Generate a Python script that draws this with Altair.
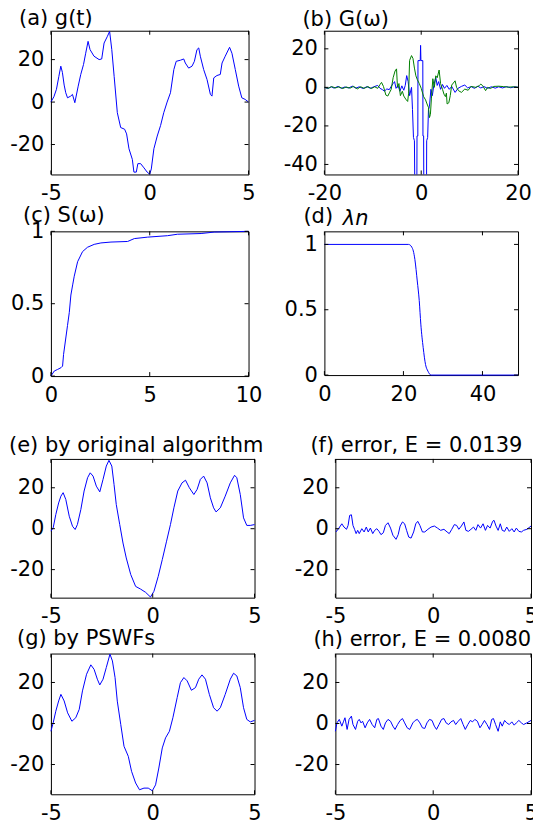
import altair as alt
import pandas as pd

FONT = "DejaVu Sans"
FS = 21
BLUE = "#0000ff"
GREEN = "#008000"

# ---------------- (a) g(t) ----------------
a_t = [-5.00, -4.85, -4.72, -4.60, -4.50, -4.42, -4.33, -4.25, -4.16, -4.00, -3.91, -3.79,
       -3.62, -3.49, -3.35, -3.24, -3.12, -3.02, -2.82, -2.56, -2.43, -2.31, -2.14, -2.03,
       -1.92, -1.80, -1.64, -1.47, -1.27, -1.17, -1.05, -0.88, -0.80, -0.68, -0.60, -0.46,
       -0.29, -0.13, 0.00, 0.08, 0.21, 0.38, 0.55, 0.71, 0.88, 1.05, 1.22, 1.34, 1.55, 1.72,
       1.80, 1.97, 2.14, 2.26, 2.39, 2.48, 2.56, 2.73, 2.90, 3.07, 3.15, 3.24, 3.40, 3.57,
       3.66, 3.82, 4.04, 4.16, 4.33, 4.50, 4.66, 4.83, 5.00]
a_g = [0.0, 2.5, 6.0, 12.0, 16.9, 14.0, 8.0, 4.4, 2.0, 2.8, 3.6, -0.3,
       7.5, 13.0, 17.7, 23.0, 28.6, 24.7, 21.6, 20.0, 20.3, 27.8, 31.0, 33.3,
       24.7, 12.0, -5.0, -12.0, -12.8, -15.0, -22.0, -27.0, -33.0, -33.0, -29.0, -29.0,
       -31.0, -33.0, -34.0, -31.5, -22.0, -16.0, -11.0, -5.0, 0.0, 4.4, 15.3, 19.2, 19.7, 20.3,
       18.4, 16.0, 16.9, 19.2, 24.7, 25.5, 21.6, 15.3, 10.6, 3.6, 2.8, 11.4, 12.5, 13.0,
       18.4, 21.6, 25.8, 23.0, 15.3, 7.5, 2.0, 1.25, 0.0]

# ---------------- (b) G(omega): blue & green ----------------
b_w_blue = [-20.0, -19.3, -18.6, -18.0, -17.2, -16.5, -15.8, -15.0, -14.2, -13.5, -12.8, -12.0,
            -11.2, -10.5, -9.8, -9.0, -8.5, -8.0, -7.6, -7.1, -6.6, -6.2, -5.8, -5.5, -5.2,
            -4.8, -4.4, -4.0, -3.6, -3.3, -3.0, -2.7, -2.4, -2.0, -1.8, -1.6, -1.4, -1.33,
            -0.9, -0.87, -0.7, -0.67, -0.2, -0.13, -0.06, 0.33, 0.36, 0.5, 0.53, 1.1, 1.13,
            1.33, 1.5, 1.7, 2.0, 2.3, 2.6, 3.0, 3.3, 3.6, 4.0, 4.4, 4.8, 5.3, 5.8, 6.3, 7.0,
            7.6, 8.3, 9.0, 9.6, 10.3, 11.0, 11.7, 12.3, 13.0, 13.7, 14.5, 15.3, 16.0, 16.8,
            17.6, 18.5, 19.3, 20.0]
b_blue = [0.0, -0.6, 0.3, -0.4, 0.5, -0.5, 0.2, -0.3, 0.6, -0.4, 0.3, -0.6,
          0.4, -0.5, 0.3, 1.0, -0.5, -1.2, -2.0, -0.8, -1.2, 0.5, 2.0, 3.0, -0.5,
          1.0, -2.0, 0.8, -1.5, 1.0, 6.1, 3.0, -4.3, 0.0, -11.5, -26.0, -27.7, -50.0,
          -50.0, -25.2, -25.2, 13.9, 13.9, 21.8, 13.9, 13.9, -25.2, -25.2, -50.0, -50.0, -27.7,
          -26.0, -11.5, -10.0, -1.0, -4.3, 1.0, 5.2, 1.0, 3.0, -1.0, 1.5, -0.5, 1.0, -1.0, 0.5, -2.6,
          -0.5, 0.5, 1.2, -0.3, 0.4, -0.5, 0.6, -0.3, 0.4, -0.5, 0.3, -0.4, 0.3, -0.3,
          0.4, -0.2, 0.3, 0.0]
b_w_green = [-20.0, -19.2, -18.5, -17.7, -17.0, -16.2, -15.5, -14.7, -14.0, -13.2, -12.5, -11.8,
             -11.0, -10.3, -9.6, -9.0, -8.5, -8.2, -7.8, -7.3, -6.9, -6.5, -6.2, -5.8, -5.4,
             -5.1, -4.9, -4.6, -4.3, -3.9, -3.6, -3.2, -2.8, -2.6, -2.4, -2.0, -1.7, -1.4,
             -1.1, -0.8, -0.4, 0.0, 0.5, 0.9, 1.2, 1.5, 1.7, 1.9, 2.1, 2.4, 2.7, 3.0, 3.3,
             3.7, 4.0, 4.4, 4.7, 5.0, 5.2, 5.35, 5.7, 6.0, 6.3, 7.0, 7.3, 7.7, 8.3, 9.0, 9.7,
             10.3, 11.3, 12.0, 12.3, 12.7, 13.3, 13.7, 14.3, 15.0, 16.0, 17.0, 18.0, 19.0, 20.0]
b_green = [0.0, -0.5, 0.4, -0.3, 0.3, -0.6, 0.2, -0.4, 0.5, -0.8, 0.3, -0.5,
           0.4, -0.6, 0.3, -0.5, 1.5, 2.6, 0.5, -4.0, -4.5, -2.5, -1.0, 5.0, 8.5,
           9.6, 0.0, 2.0, -4.3, -2.0, -4.5, -6.1, -7.3, -3.0, 14.0, 16.5, 15.0, 10.0,
           6.0, 4.0, 2.0, -0.5, -4.8, -6.5, -8.6, -10.4, -15.7, -14.0, -6.0, 4.5, 0.0, 6.0, 5.0,
           9.0, 2.0, -1.0, -3.5, -4.8, -3.0, -8.6, -8.0, -4.3, 1.2, 3.4, 0.0, -1.7, -2.6, -0.9, -1.5,
           0.5, 0.0, 0.9, 1.7, 0.9, -1.7, 0.0, -0.6, 0.5, 0.6, 0.4, 0.1, 0.3, 0.0]

# ---------------- (c) S(omega) ----------------
c_w = [0.0, 0.17, 0.34, 0.51, 0.59, 0.64, 0.76, 0.84, 0.93, 1.01, 1.10, 1.18, 1.35, 1.60,
       1.85, 2.19, 2.53, 3.04, 3.88, 4.22, 4.89, 5.90, 6.40, 7.60, 8.26, 10.0]
c_s = [0.0, 0.035, 0.046, 0.058, 0.069, 0.15, 0.27, 0.35, 0.44, 0.56, 0.63, 0.69, 0.79, 0.86,
       0.89, 0.91, 0.92, 0.926, 0.93, 0.95, 0.96, 0.97, 0.98, 0.985, 0.995, 1.0]

# ---------------- (d) lambda_n ----------------
d_n = [0.0, 21.3, 21.7, 22.1, 22.5, 22.9, 23.5, 24.0, 24.4, 25.0, 25.6, 26.2, 27.0, 49.0]
d_l = [1.0, 1.0, 0.995, 0.98, 0.95, 0.885, 0.72, 0.57, 0.39, 0.21, 0.08, 0.03, 0.0, 0.0]

# ---------------- (e) by original algorithm ----------------
e_t = [-5.00, -4.89, -4.76, -4.62, -4.51, -4.40, -4.27, -4.10, -3.94, -3.81, -3.70, -3.53,
       -3.37, -3.20, -3.07, -2.93, -2.77, -2.60, -2.44, -2.28, -2.15, -2.01, -1.90, -1.79,
       -1.62, -1.46, -1.30, -1.08, -0.84, -0.60, -0.35, -0.11, 0.06, 0.27, 0.47, 0.68, 0.87,
       1.04, 1.23, 1.44, 1.61, 1.80, 2.02, 2.18, 2.34, 2.50, 2.67, 2.83, 2.99, 3.11, 3.32,
       3.56, 3.81, 4.02, 4.13, 4.30, 4.46, 4.62, 4.79, 5.00]
e_g = [-1.2, 0.4, 6.9, 12.6, 15.9, 17.6, 14.3, 6.1, 1.2, -0.4, 2.0, 9.4,
       18.4, 24.9, 27.3, 25.7, 20.8, 18.0, 24.1, 30.6, 33.4, 30.6, 21.6, 11.8,
       2.0, -7.0, -14.3, -22.4, -28.2, -29.5, -31.1, -33.4, -30.6, -23.3, -15.1, -6.1, 2.0,
       10.2, 18.4, 22.4, 23.7, 20.0, 16.7, 19.2, 24.1, 25.7, 22.4, 15.1, 10.2, 8.2, 10.2,
       15.9, 22.4, 26.1, 24.9, 16.7, 5.3, 1.6, 1.6, 2.0]

# ---------------- (f) error, original ----------------
f_t = [-4.97, -4.84, -4.67, -4.56, -4.43, -4.35, -4.27, -4.18, -4.10, -4.02, -3.94, -3.86,
       -3.78, -3.65, -3.53, -3.42, -3.32, -3.21, -3.09, -2.99, -2.88, -2.77, -2.67, -2.55,
       -2.44, -2.31, -2.18, -2.06, -1.90, -1.79, -1.69, -1.57, -1.46, -1.36, -1.25, -1.13,
       -1.00, -0.89, -0.79, -0.68, -0.55, -0.43, -0.27, -0.11, 0.06, 0.22, 0.38, 0.55, 0.71,
       0.82, 0.95, 1.08, 1.20, 1.31, 1.44, 1.57, 1.67, 1.80, 1.93, 2.06, 2.18, 2.29, 2.42,
       2.55, 2.67, 2.78, 2.91, 3.04, 3.11, 3.21, 3.32, 3.43, 3.53, 3.65, 3.76, 3.89, 4.02,
       4.14, 4.25, 4.38, 4.51, 4.62, 4.79, 5.00]
f_e = [-1.6, 0.0, 2.4, 0.8, -0.3, 1.6, 6.5, 6.8, 1.6, -0.3, -2.4, -0.8,
       -2.4, 0.0, -1.6, 0.8, -1.6, 0.3, -2.4, -0.8, 0.0, -1.3, -2.9, -2.0,
       1.6, 2.9, 0.3, -3.2, -5.2, -2.9, 1.3, 3.3, 2.4, -0.8, -4.1, -4.6,
       -1.6, 2.4, 3.6, 1.6, -1.6, -1.6, -0.3, 0.8, 1.3, 0.3, -0.8, -0.3, -1.6,
       -2.4, -0.3, 2.0, 1.6, -0.3, 1.3, 3.3, -0.8, -1.3, -0.3, 0.8, -0.8, 2.0, 0.3,
       2.4, -0.8, 1.6, 0.3, 3.6, 4.1, 1.3, -0.8, 2.4, -0.8, -1.3, 0.8, -1.3, 0.0,
       -1.6, 0.3, -1.3, -1.6, -0.8, -0.3, 1.3]

# ---------------- (g) by PSWFs ----------------
g_t = [-5.00, -4.89, -4.76, -4.62, -4.51, -4.35, -4.18, -3.97, -3.78, -3.61, -3.45, -3.25,
       -3.04, -2.88, -2.72, -2.60, -2.44, -2.28, -2.10, -1.98, -1.85, -1.74, -1.57, -1.41,
       -1.20, -1.04, -0.84, -0.65, -0.43, -0.22, -0.02, 0.14, 0.30, 0.47, 0.63, 0.82, 0.99,
       1.20, 1.36, 1.53, 1.69, 1.90, 2.10, 2.26, 2.42, 2.59, 2.78, 2.99, 3.16, 3.32, 3.56,
       3.81, 3.97, 4.13, 4.30, 4.46, 4.62, 4.79, 5.00]
g_g = [-3.8, 0.3, 6.0, 11.0, 14.2, 11.0, 5.2, 1.1, 2.8, 6.9, 15.9, 24.0,
       28.6, 26.4, 21.6, 18.8, 21.6, 27.3, 33.8, 30.5, 22.4, 10.9, -0.5, -11.1,
       -16.0, -23.3, -29.0, -32.3, -31.5, -31.5, -32.8, -29.9, -21.7, -11.9, -7.0, -3.8, 2.8,
       12.6, 19.9, 22.4, 20.8, 16.2, 17.5, 21.6, 23.7, 21.6, 14.2, 7.7, 6.0, 7.7, 14.2,
       21.6, 24.5, 23.2, 17.5, 7.7, 2.0, 0.8, 1.5]

# ---------------- (h) error, PSWFs ----------------
h_t = [-5.00, -4.92, -4.80, -4.67, -4.59, -4.51, -4.40, -4.30, -4.18, -4.10, -3.97, -3.86,
       -3.78, -3.69, -3.61, -3.48, -3.37, -3.25, -3.12, -2.99, -2.88, -2.80, -2.67, -2.55,
       -2.44, -2.31, -2.18, -2.06, -1.95, -1.82, -1.69, -1.57, -1.46, -1.33, -1.20, -1.04,
       -0.92, -0.81, -0.68, -0.55, -0.43, -0.32, -0.19, -0.06, 0.06, 0.17, 0.30, 0.43, 0.55,
       0.66, 0.79, 0.91, 1.04, 1.15, 1.28, 1.41, 1.53, 1.64, 1.77, 1.90, 2.01, 2.13, 2.26,
       2.39, 2.50, 2.62, 2.75, 2.88, 2.99, 3.08, 3.19, 3.32, 3.43, 3.53, 3.65, 3.76, 3.89,
       4.02, 4.14, 4.25, 4.38, 4.51, 4.62, 4.79, 5.00]
h_e = [-3.8, 0.3, 2.0, -1.3, 0.8, 2.8, -2.9, 2.0, 3.6, -0.5, -2.9, 1.1,
       2.0, 0.3, 1.1, -2.1, 0.3, 2.0, -0.5, -2.1, 2.0, 2.4, -1.3, -2.9,
       0.3, 2.0, 1.1, -1.3, -2.9, -0.5, 1.5, 2.4, 0.3, -2.1, -2.9, 0.3,
       1.5, 2.0, 0.3, -2.1, -2.4, 0.3, 2.0, 1.5, -1.3, -2.9, -0.5, 2.0, 2.4,
       0.3, -0.5, 0.8, 1.5, -0.5, 1.1, 2.4, -0.5, -2.9, -0.5, 1.5, 0.8, 2.0, 1.1,
       -2.1, -0.5, 1.5, -0.5, -2.9, 2.0, 2.4, -0.5, -3.8, 0.8, -1.3, 1.5, 0.3, -0.5,
       0.8, -0.8, 0.3, 1.5, 0.3, -0.5, 0.3, 1.5]

LABEL_EXPR = "'' + datum.value"


def axis_kw(values, xdir):
    return dict(values=values, title="", labelFont=FONT, labelFontSize=FS, labelColor="black",
                ticks=False, domain=False, grid=False, labelFlush=False, labelExpr=LABEL_EXPR,
                labelPadding=8 if xdir else 7)


def panel(series, xdom, ydom, xticks, yticks, w, h, title, tdx, tdy=0, toff=2,
          interp="linear", clip=False, yaxis_kw=None, L=4):
    xs = alt.Scale(domain=xdom, nice=False, zero=False)
    ys = alt.Scale(domain=ydom, nice=False, zero=False)
    ykw = axis_kw(yticks, False)
    if yaxis_kw:
        ykw.update(yaxis_kw)
    xkw = axis_kw(xticks, True)
    X = alt.X("x:Q", scale=xs, axis=alt.Axis(**xkw))
    Y = alt.Y("y:Q", scale=ys, axis=alt.Axis(**ykw))
    layers = []
    for xv, yv, color in series:
        df = pd.DataFrame({"x": xv, "y": yv})
        layers.append(
            alt.Chart(df).mark_line(color=color, strokeWidth=1, interpolate=interp, clip=clip)
            .encode(x=X, y=Y)
        )
    xt = pd.DataFrame({"x": xticks})
    yt = pd.DataFrame({"y": yticks})
    bx = alt.Chart(xt).mark_rule(color="black", strokeWidth=1)
    by = alt.Chart(yt).mark_rule(color="black", strokeWidth=1)
    layers += [
        bx.encode(x=X, y=alt.value(h), y2=alt.value(h - L)),
        bx.encode(x=X, y=alt.value(0), y2=alt.value(L)),
        by.encode(y=Y, x=alt.value(0), x2=alt.value(L)),
        by.encode(y=Y, x=alt.value(w - L), x2=alt.value(w)),
    ]
    return alt.layer(*layers).properties(
        width=w, height=h,
        title=alt.TitleParams(title, anchor="start", frame="group", dx=tdx, dy=tdy, offset=toff,
                              font=FONT, fontSize=FS, fontWeight="normal", color="black"),
    )


T5 = [-5, 0, 5]
Y20 = [-20, 0, 20]

pa = panel([(a_t, a_g, BLUE)], [-5, 5], [-34.1, 33.6], T5, Y20, 198, 144, "(a) g(t)", -32, toff=0)
pb = panel([(b_w_blue, b_blue, BLUE), (b_w_green, b_green, GREEN)], [-20, 20], [-45.2, 29.4],
           [-20, 0, 20], [-40, -20, 0, 20], 194, 144, "(b) G(ω)", -22, toff=0, clip=True)
pc = panel([(c_w, c_s, BLUE)], [0, 10], [0, 1], [0, 5, 10], [0, 0.5, 1], 198, 145,
           "(c) S(ω)", -28, tdy=8)
pd_ = panel([(d_n, d_l, BLUE)], [0, 49], [0, 1.1], [0, 20, 40], [0, 0.5, 1], 194, 144,
            "(d)", -21, tdy=22, interp="monotone",
            yaxis_kw=dict(title="λn", titleAngle=0, titleAlign="left", titleBaseline="alphabetic",
                          titleX=18, titleY=-7, titleFont=FONT, titleFontSize=FS,
                          titleFontStyle="italic", titleFontWeight="normal", titleColor="black"))
pe = panel([(e_t, e_g, BLUE)], [-5, 5], [-33.7, 34.1], T5, Y20, 204, 139,
           "(e) by original algorithm", -42)
pf = panel([(f_t, f_e, BLUE)], [-5, 5], [-33.7, 34.1], T5, Y20, 196, 139,
           "(f) error, E = 0.0139", -25)
pg = panel([(g_t, g_g, BLUE)], [-5, 5], [-34.5, 34.1], T5, Y20, 204, 141,
           "(g) by PSWFs", -34, toff=3)
ph = panel([(h_t, h_e, BLUE)], [-5, 5], [-34.5, 34.1], T5, Y20, 196, 141,
           "(h) error, E = 0.0080", -22, toff=3)

top = alt.concat(pa, pb, pc, pd_, columns=2, spacing={"row": 57, "column": 76},
                 bounds="flush", align="each")
bottom = alt.concat(pe, pf, pg, ph, columns=2, spacing={"row": 56, "column": 81},
                    bounds="flush", align="each")

chart = alt.vconcat(top, bottom, spacing=28, bounds="full").properties(
    padding={"left": 0, "top": -1, "right": -6, "bottom": -4}
).configure_view(
    stroke="black", strokeWidth=1
)

chart.save("out.html", embed_options={"renderer": "svg", "actions": False})
